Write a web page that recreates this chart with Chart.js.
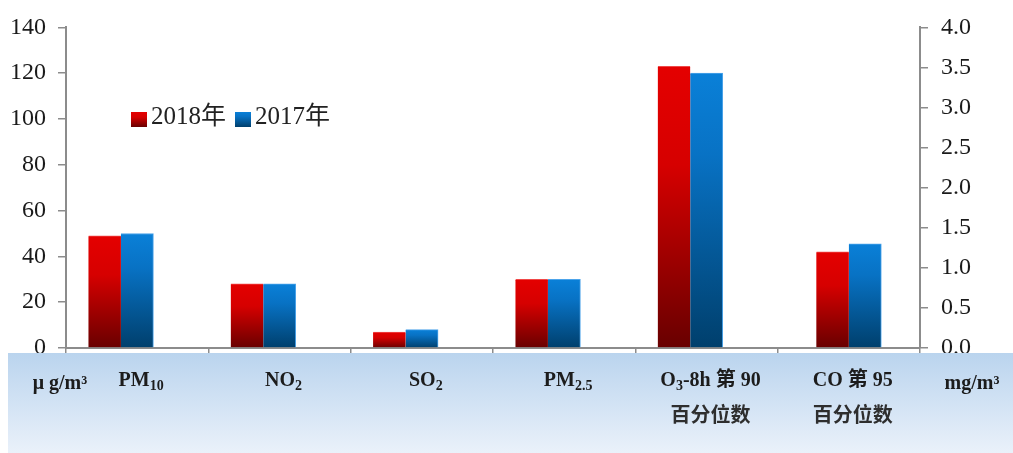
<!DOCTYPE html>
<html>
<head>
<meta charset="utf-8">
<script src="https://cdn.jsdelivr.net/npm/chart.js@4/dist/chart.umd.min.js"></script>
<style>
  html, body { margin: 0; padding: 0; background: #fff; }
  #wrap { width: 1013px; height: 453px; position: relative; }
</style>
</head>
<body>
<div id="wrap"><canvas id="c" width="1013" height="453"></canvas></div>
<script>
// Pollutant categories (second line where the label wraps)
const categories = [
  ['PM₁₀'],
  ['NO₂'],
  ['SO₂'],
  ['PM₂.₅'],
  ['O₃-8h 第 90', '百分位数'],
  ['CO 第 95', '百分位数']
];

// Concentrations in μg/m³ (left axis)
const values2018 = [49, 28, 7, 30, 123, null];
const values2017 = [50, 28, 8, 30, 120, null];

// CO concentration in mg/m³ (right axis)
const coValues2018 = [null, null, null, null, null, 1.2];
const coValues2017 = [null, null, null, null, null, 1.3];

// Legend entries and axis units
const seriesNames = ['2018年', '2017年'];
const unitLabels = ['μ g/m³', 'mg/m³'];

// Axis tick labels
const leftTickLabels = ['0', '20', '40', '60', '80', '100', '120', '140'];
const rightTickLabels = ['0.0', '0.5', '1.0', '1.5', '2.0', '2.5', '3.0', '3.5', '4.0'];

const SERIF = '"Liberation Serif", "Times New Roman", "Noto Sans CJK SC", serif';
const AXIS_GRAY = '#8c8c8c';

const palette = {
  red:  { stops: [[0, '#e40000'], [0.35, '#d60000'], [1, '#680000']], edge: '#f04848' },
  blue: { stops: [[0, '#0a80d8'], [0.3, '#0872c4'], [1, '#003f6c']], edge: '#4da4ea' }
};

// Per-bar vertical gradient, from the bar's top to its base
function barFill(key) {
  return (ctx) => {
    const chart = ctx.chart;
    const stops = palette[key].stops;
    if (ctx.type !== 'data' || ctx.raw == null || !chart.chartArea) return stops[0][1];
    const ds = chart.data.datasets[ctx.datasetIndex];
    const scale = chart.scales[ds.yAxisID];
    const yTop = scale.getPixelForValue(ctx.raw);
    const yBase = scale.getPixelForValue(0);
    const g = chart.ctx.createLinearGradient(0, yTop, 0, yBase);
    stops.forEach(([p, c]) => g.addColorStop(p, c));
    return g;
  };
}

// Draws a label where Unicode subscript digits are rendered small and lowered
const SUB = '₀₁₂₃₄₅₆₇₈₉';
function splitRuns(text) {
  const runs = [];
  const chars = Array.from(text);
  chars.forEach((ch, i) => {
    let sub = SUB.includes(ch);
    const out = sub ? String(SUB.indexOf(ch)) : ch;
    if (ch === '.' && i > 0 && SUB.includes(chars[i - 1])) sub = true;
    const last = runs[runs.length - 1];
    if (last && last.sub === sub) last.text += out;
    else runs.push({ text: out, sub });
  });
  return runs;
}
function drawRich(ctx, text, cx, cy, size, color) {
  const mainFont = `bold ${size}px ${SERIF}`;
  const subFont = `bold ${Math.round(size * 0.68)}px ${SERIF}`;
  const runs = splitRuns(text);
  let total = 0;
  runs.forEach(r => { ctx.font = r.sub ? subFont : mainFont; r.w = ctx.measureText(r.text).width; total += r.w; });
  let x = cx - total / 2;
  ctx.fillStyle = color;
  ctx.textBaseline = 'middle';
  ctx.textAlign = 'left';
  runs.forEach(r => {
    ctx.font = r.sub ? subFont : mainFont;
    ctx.fillText(r.text, x, r.sub ? cy + size * 0.26 : cy);
    x += r.w;
  });
}

const decorations = {
  id: 'decorations',
  afterDraw(chart) {
    const ctx = chart.ctx;
    const xScale = chart.scales.x;
    ctx.save();

    // Light blue band behind the category labels
    const bandTop = 353;
    const band = ctx.createLinearGradient(0, bandTop, 0, chart.height);
    band.addColorStop(0, '#bad4ee');
    band.addColorStop(1, '#eaf1fa');
    ctx.fillStyle = band;
    ctx.fillRect(8, bandTop, chart.width - 8, chart.height - bandTop);

    // Category labels
    chart.data.labels.forEach((lines, i) => {
      const cx = xScale.getPixelForValue(i) + 4;
      lines.forEach((line, j) => drawRich(ctx, line, cx, 381 + j * 36, 20, j ? '#2e2e2e' : '#1c1c1c'));
    });

    // Units at both ends of the band
    drawRich(ctx, unitLabels[0], 60, 384, 20, '#1c1c1c');
    drawRich(ctx, unitLabels[1], 972, 384, 20, '#1c1c1c');

    // Legend
    const legendItems = [
      { name: seriesNames[0], key: 'red' },
      { name: seriesNames[1], key: 'blue' }
    ];
    let lx = 131;
    const ly = 119;
    legendItems.forEach(item => {
      const g = ctx.createLinearGradient(0, ly - 7, 0, ly + 8);
      palette[item.key].stops.forEach(([p, c]) => g.addColorStop(p, c));
      ctx.fillStyle = g;
      ctx.fillRect(lx, ly - 7, 16, 15);
      ctx.font = `25px ${SERIF}`;
      ctx.fillStyle = '#222';
      ctx.textBaseline = 'middle';
      ctx.textAlign = 'left';
      ctx.fillText(item.name, lx + 20, ly - 2);
      lx += 20 + ctx.measureText(item.name).width + 9;
    });
    ctx.restore();
  }
};

const BAR_W = 32.5;

new Chart(document.getElementById('c'), {
  type: 'bar',
  data: {
    labels: categories,
    datasets: [
      { label: seriesNames[0], data: values2018, yAxisID: 'y',
        backgroundColor: barFill('red'), borderColor: palette.red.edge, borderWidth: { top: 1, right: 0, left: 0, bottom: 0 } },
      { label: seriesNames[1], data: values2017, yAxisID: 'y',
        backgroundColor: barFill('blue'), borderColor: palette.blue.edge, borderWidth: { top: 1, right: 1, left: 0, bottom: 0 } },
      { label: seriesNames[0], data: coValues2018, yAxisID: 'y1',
        backgroundColor: barFill('red'), borderColor: palette.red.edge, borderWidth: { top: 1, right: 0, left: 0, bottom: 0 } },
      { label: seriesNames[1], data: coValues2017, yAxisID: 'y1',
        backgroundColor: barFill('blue'), borderColor: palette.blue.edge, borderWidth: { top: 1, right: 1, left: 0, bottom: 0 } },
      // empty slot that keeps the μg/m³ pairs in the left part of their category
      { label: 'gap', data: values2018.map(v => (v == null ? null : 0)), yAxisID: 'y',
        backgroundColor: 'rgba(0,0,0,0)', borderWidth: 0 }
    ]
  },
  options: {
    responsive: false,
    animation: false,
    devicePixelRatio: 1,
    layout: { padding: { top: 22, left: 0, right: 0, bottom: 0 } },
    datasets: { bar: { barThickness: BAR_W, skipNull: true, borderSkipped: false } },
    plugins: { legend: { display: false }, tooltip: { enabled: false } },
    scales: {
      x: {
        type: 'category',
        ticks: { display: false },
        grid: { display: true, drawOnChartArea: false, offset: true, tickLength: 5, color: AXIS_GRAY, lineWidth: 1.5 },
        border: { display: true, color: AXIS_GRAY, width: 2 },
        afterFit(s) { s.height = 105; }
      },
      y: {
        position: 'left',
        min: 0, max: 140,
        ticks: { stepSize: 20, padding: 12, color: '#1a1a1a',
                 font: { family: SERIF, size: 24 },
                 callback: (v, i) => leftTickLabels[i] },
        grid: { drawOnChartArea: false, tickLength: 8, color: AXIS_GRAY, lineWidth: 1.5 },
        border: { color: AXIS_GRAY, width: 2 },
        afterFit(s) { s.width = 66; }
      },
      y1: {
        position: 'right',
        min: 0, max: 4,
        ticks: { stepSize: 0.5, padding: 13, color: '#1a1a1a',
                 font: { family: SERIF, size: 24 },
                 callback: (v, i) => rightTickLabels[i] },
        grid: { drawOnChartArea: false, tickLength: 8, color: AXIS_GRAY, lineWidth: 1.5 },
        border: { color: AXIS_GRAY, width: 2 },
        afterFit(s) { s.width = 93; }
      }
    }
  },
  plugins: [decorations]
});
</script>
</body>
</html>
